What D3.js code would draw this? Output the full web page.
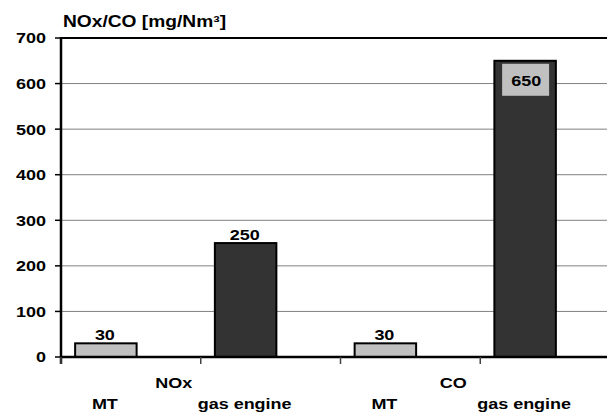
<!DOCTYPE html>
<html>
<head>
<meta charset="utf-8">
<script src="https://cdn.jsdelivr.net/npm/d3@7/dist/d3.min.js"></script>
<style>
  html, body { margin: 0; padding: 0; background: #fff; }
  svg { display: block; }
  text { font-family: "Liberation Sans", Arial, sans-serif; font-weight: bold; fill: #000; }
</style>
</head>
<body>
<svg id="chart" width="607" height="415"></svg>
<script>
// Pollutants and emission sources
const groups = ["NOx", "CO"];
const sources = ["MT", "gas engine"];
// Emissions in mg/Nm³, one value per source
const valuesNOx = [30, 250];
const valuesCO = [30, 650];
const yTicks = [0, 100, 200, 300, 400, 500, 600, 700];
const yTitle = "NOx/CO [mg/Nm³]";

const fills = { "MT": "#c0c0c0", "gas engine": "#333333" };

// Flattened bar list: group × source
const bars = [];
groups.forEach((g, gi) => {
  const vals = gi === 0 ? valuesNOx : valuesCO;
  sources.forEach((s, si) => bars.push({ key: g + "|" + s, group: g, source: s, value: vals[si] }));
});

const svg = d3.select("#chart");
const SX = 1.2; // horizontal text stretch

const y = d3.scaleLinear().domain([0, 700]).range([357, 38]);
const x = d3.scaleBand().domain(bars.map(d => d.key))
  .range([36, 595]).paddingInner(0.56).paddingOuter(0.28);
const tickX = d3.scaleLinear().domain([0, bars.length]).range([61, 620]);

function label(sel, tx, ty, str, size, anchor) {
  return sel.append("text")
    .attr("transform", `translate(${tx},${ty}) scale(${SX},1)`)
    .attr("text-anchor", anchor || "middle")
    .style("font-size", size + "px")
    .text(str);
}

// Gridlines
svg.append("g").selectAll("line").data(yTicks.filter(t => t > 0 && t < 700)).join("line")
  .attr("x1", 61).attr("x2", 607)
  .attr("y1", d => y(d)).attr("y2", d => y(d))
  .attr("stroke", "#808080").attr("stroke-width", 1);
// Top border of plot area
svg.append("line").attr("x1", 61).attr("x2", 607).attr("y1", y(700)).attr("y2", y(700))
  .attr("stroke", "#000").attr("stroke-width", 2);

// Bars
svg.append("g").selectAll("rect").data(bars).join("rect")
  .attr("x", d => x(d.key)).attr("width", x.bandwidth())
  .attr("y", d => y(d.value)).attr("height", d => y(0) - y(d.value))
  .attr("fill", d => fills[d.source])
  .attr("stroke", "#000").attr("stroke-width", 2);

// Y axis
const yAxis = svg.append("g");
yAxis.append("line").attr("x1", 61).attr("x2", 61).attr("y1", y(700) - 1).attr("y2", 364)
  .attr("stroke", "#000").attr("stroke-width", 2.5);
yAxis.selectAll("line.tick").data(yTicks).join("line").attr("class", "tick")
  .attr("x1", 55).attr("x2", 61).attr("y1", d => y(d)).attr("y2", d => y(d))
  .attr("stroke", "#000").attr("stroke-width", 1.5);
yTicks.forEach(t => label(yAxis, 46, y(t) + 5.4, String(t), 15, "end"));

// X axis
const xAxis = svg.append("g");
xAxis.append("line").attr("x1", 60).attr("x2", 607).attr("y1", y(0)).attr("y2", y(0))
  .attr("stroke", "#000").attr("stroke-width", 2.5);
xAxis.selectAll("line.tick").data(d3.range(bars.length)).join("line").attr("class", "tick")
  .attr("x1", d => tickX(d)).attr("x2", d => tickX(d)).attr("y1", y(0)).attr("y2", 364)
  .attr("stroke", "#444").attr("stroke-width", 1.5);

// Category labels: sources below, pollutant above
bars.forEach(d => label(xAxis, x(d.key) + x.bandwidth() / 2 - 1, 409, d.source, 15));
groups.forEach(g => {
  const ks = bars.filter(d => d.group === g).map(d => x(d.key) + x.bandwidth() / 2);
  label(xAxis, d3.mean(ks) - 2, 388, g, 15);
});

// Value labels
const vl = svg.append("g");
bars.forEach(d => {
  const cx = x(d.key) + x.bandwidth() / 2;
  if (y(d.value) - 30 < y(700)) {
    // too close to the top: label goes inside the bar on a light box
    vl.append("rect").attr("x", cx - 23).attr("y", y(d.value) + 3)
      .attr("width", 47).attr("height", 32).attr("fill", "#c0c0c0");
    label(vl, cx + 1, y(d.value) + 25, String(d.value), 15);
  } else {
    label(vl, cx - 1, y(d.value) - 3, String(d.value), 15);
  }
});

// Axis title
label(svg, 63, 27, yTitle, 16, "start");
</script>
</body>
</html>
